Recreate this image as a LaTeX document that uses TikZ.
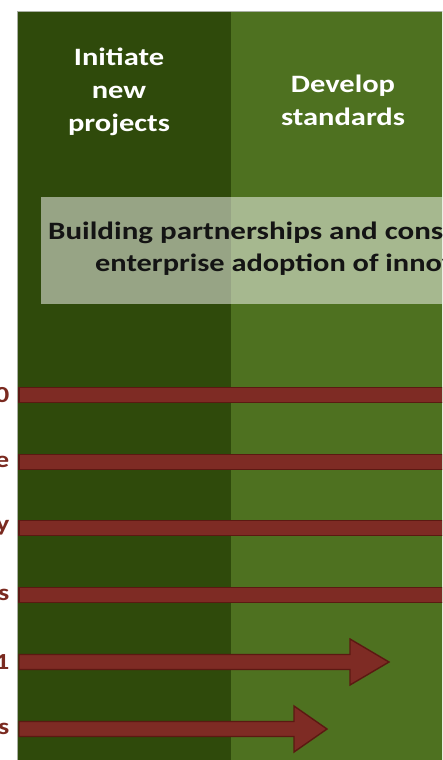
\documentclass[tikz,border=0pt]{standalone}
\usepackage{fontspec}
\setmainfont{Carlito}
\newfontfamily\widefont[FakeStretch=1.22]{Carlito}
\newfontfamily\bandfonta[FakeStretch=1.24]{Carlito}
\newfontfamily\bandfontb[FakeStretch=1.215]{Carlito}
\definecolor{darkcol}{HTML}{2F4A0B}
\definecolor{lightcol}{HTML}{4E7120}
\definecolor{arrowfill}{HTML}{7E2B24}
\definecolor{arrowline}{HTML}{5B1912}
\definecolor{labelred}{HTML}{7A2A20}
\definecolor{edgegray}{HTML}{A9AFA3}
\begin{document}
\begin{tikzpicture}[x=1pt,y=-1pt,
  header/.style={text=white,font=\widefont\fontsize{25}{33}\selectfont\bfseries,align=center},
  bandtext/.style={text=black!92,anchor=base west,inner sep=0},
  rowlabel/.style={text=labelred,font=\widefont\fontsize{23}{28}\selectfont\bfseries,anchor=east,inner sep=0},
  barrow/.style={fill=arrowfill,draw=arrowline,line width=1.4pt,line join=miter}]
\useasboundingbox (0,0) rectangle (442,760);
\clip (0,0) rectangle (442,760);
% columns
\path[fill=darkcol] (17,11) rectangle (231,770);
\path[fill=lightcol] (231,11) rectangle (460,770);
\draw[edgegray,line width=0.8pt] (17.4,770) -- (17.4,11.4) -- (460,11.4);
\node[header] (h1) at (119,92) {Initiate\\new\\projects};
\node[header] (h2) at (343,100) {Develop\\standards};
% translucent band
\path[fill=white,fill opacity=0.5] (41,197) rectangle (470,304);
\node[bandtext,font=\bandfonta\fontsize{25}{32}\selectfont\bfseries] (b1) at (48,239) {Building partnerships and const};
\node[bandtext,font=\bandfontb\fontsize{25}{32}\selectfont\bfseries] (b2) at (95,271) {enterprise adoption of innov};
% row labels (clipped on the left, as in the reference)
\foreach \y/\t [count=\i] in {395/0,462/e,528/y,595/s,662/1,729/s}
  \node[rowlabel] (l\i) at (9.5,\y) {\t};
% long bars
\foreach \y in {395,462,528,595}
  \draw[barrow] (19,\y-7.5) rectangle (470,\y+7.5);
% arrows with heads
\draw[barrow] (19,654.5) -- (350,654.5) -- (350,639) -- (389,662) -- (350,685) -- (350,669.5) -- (19,669.5) -- cycle;
\draw[barrow] (19,721.5) -- (294,721.5) -- (294,706) -- (327,729) -- (294,752) -- (294,736.5) -- (19,736.5) -- cycle;
\end{tikzpicture}
\end{document}
